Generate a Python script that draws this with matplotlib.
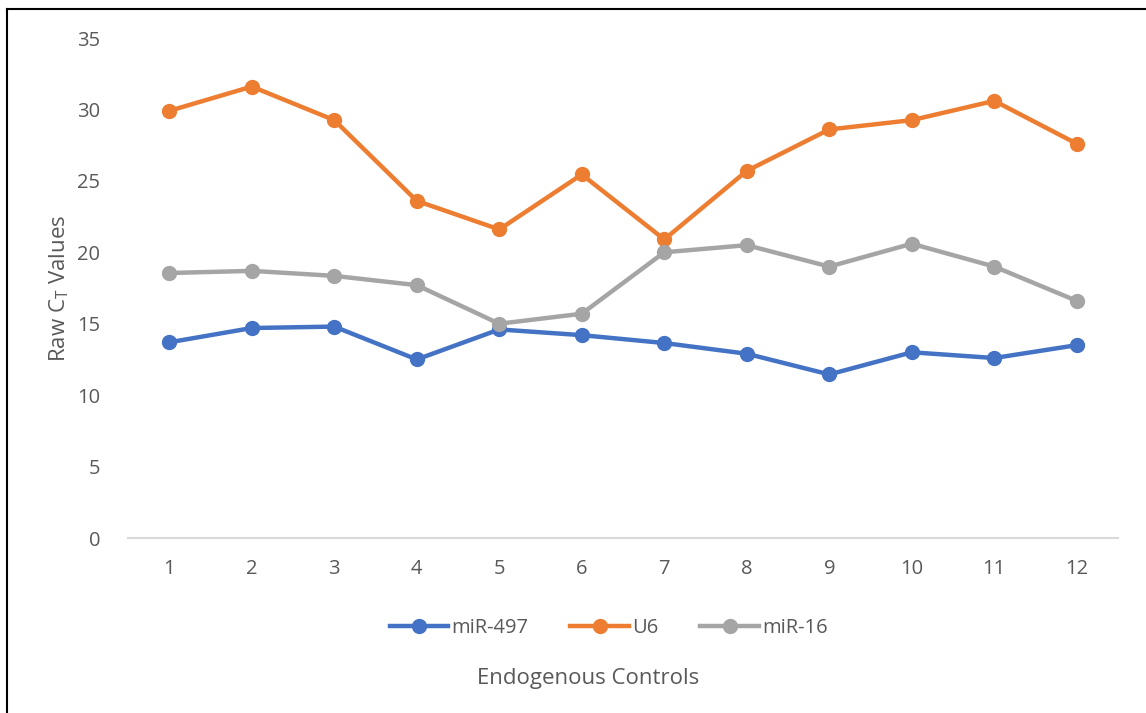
import matplotlib
matplotlib.use("Agg")
import matplotlib.pyplot as plt
from matplotlib.lines import Line2D

plt.rcParams['font.family'] = ['Open Sans', 'DejaVu Sans']

samples = [1, 2, 3, 4, 5, 6, 7, 8, 9, 10, 11, 12]
mir497 = [13.7, 14.7, 14.8, 12.5, 14.6, 14.2, 13.65, 12.9, 11.45, 13.0, 12.6, 13.5]
u6 = [29.9, 31.6, 29.25, 23.6, 21.6, 25.45, 20.9, 25.7, 28.6, 29.25, 30.6, 27.6]
mir16 = [18.55, 18.7, 18.35, 17.7, 15.0, 15.7, 20.0, 20.5, 19.0, 20.6, 19.0, 16.6]

series = [("miR-497", mir497, "#4472C4"),
          ("U6", u6, "#ED7D31"),
          ("miR-16", mir16, "#A5A5A5")]

text_color = "#595959"

fig = plt.figure(figsize=(11.46, 7.13), dpi=100)
ax = fig.add_axes([0.1117, 0.2454, 0.8639, 0.7013])

x = list(range(len(samples)))
for name, vals, col in series:
    ax.plot(x, vals, color=col, lw=3.2, marker='o', ms=10, label=name,
            solid_capstyle='round', solid_joinstyle='round')

ax.set_xlim(-0.5, len(samples) - 0.5)
ax.set_ylim(0, 35)
ax.set_yticks(range(0, 36, 5))
ax.set_xticks(x)
ax.set_xticklabels([str(s) for s in samples])
for s in ['top', 'right', 'left']:
    ax.spines[s].set_visible(False)
ax.spines['bottom'].set_color('#D9D9D9')
ax.spines['bottom'].set_linewidth(1.5)
ax.tick_params(axis='both', length=0, labelsize=14.5, colors=text_color)
ax.tick_params(axis='y', pad=20)
ax.tick_params(axis='x', pad=15)

fig.text(0.052, 0.596, r'Raw C$_\mathregular{T}$ Values', rotation=90,
         ha='center', va='center', fontsize=16, color=text_color)
fig.text(0.513, 0.049, 'Endogenous Controls', ha='center', va='center',
         fontsize=16, color=text_color)

handles = [Line2D([], [], color=c, lw=3.2, marker='o', ms=10) for _, _, c in series]
fig.legend(handles, [n for n, _, _ in series], loc='center',
           bbox_to_anchor=(0.531, 0.119), ncol=3, frameon=False,
           fontsize=14.5, labelcolor=text_color, handlelength=2.9,
           handletextpad=0.15, columnspacing=2.1)

# outer frame lines
fig.add_artist(Line2D([0.0065, 0.0065], [0.0, 0.987], color='black', lw=1.5,
                      transform=fig.transFigure))
fig.add_artist(Line2D([0.0065, 1.0], [0.987, 0.987], color='black', lw=1.5,
                      transform=fig.transFigure))

fig.savefig('out.png', dpi=100)
